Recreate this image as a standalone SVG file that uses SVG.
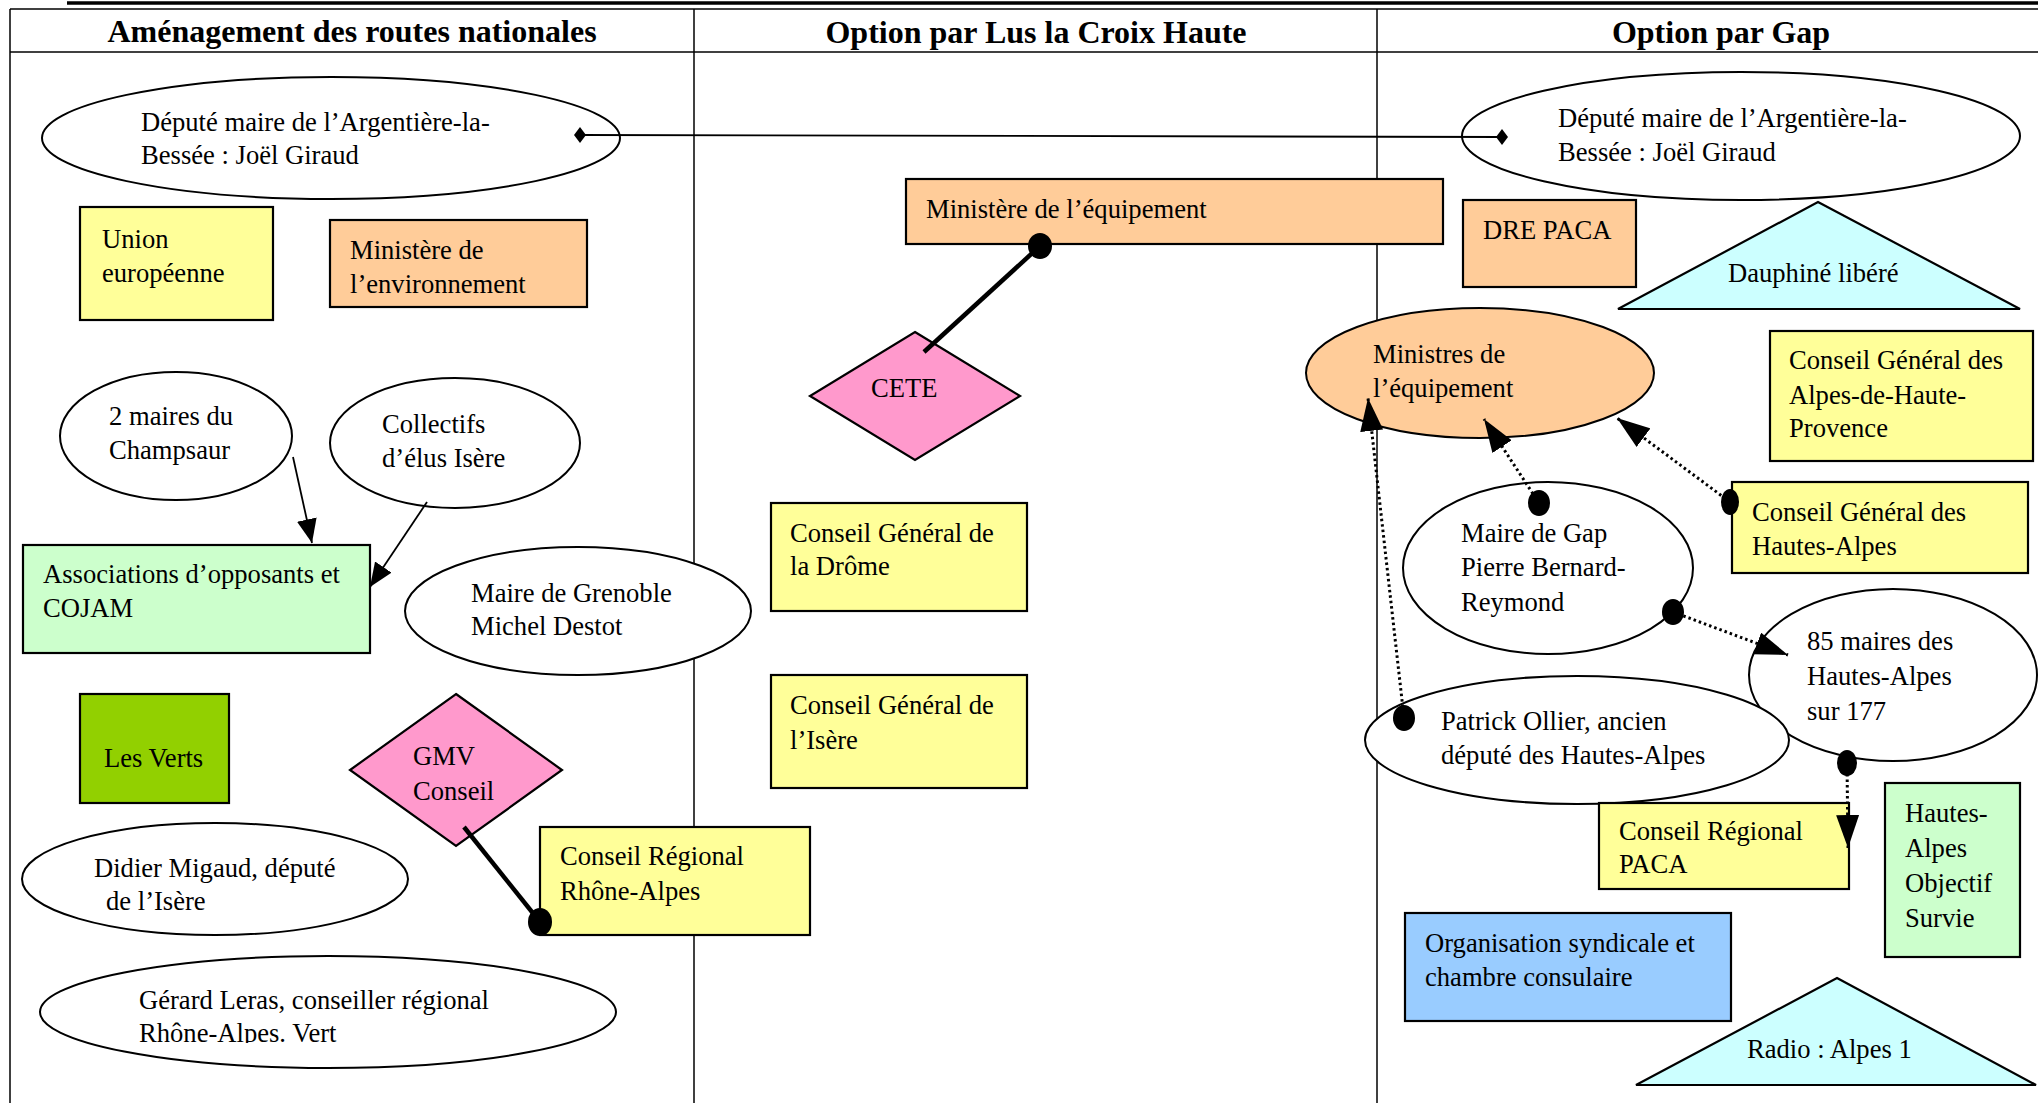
<svg xmlns="http://www.w3.org/2000/svg" width="2038" height="1103" viewBox="0 0 2038 1103">
<style>
.grid{stroke:#000;stroke-width:1.5;fill:none}
.box{stroke:#000;stroke-width:2.2}
.ell{fill:#fff;stroke:#000;stroke-width:2}
.yel{fill:#ffff99}
.org{fill:#ffcc99}
.pnk{fill:#ff99cc}
.grn{fill:#ccffcc}
.vrt{fill:#92d000}
.cyn{fill:#ccffff}
.blu{fill:#99ccff}
.t{font-family:"Liberation Serif","Times New Roman",serif;font-size:26.6px;fill:#000}
.h{font-family:"Liberation Serif","Times New Roman",serif;font-size:32px;font-weight:bold;fill:#000;text-anchor:middle}
.thin{stroke:#000;stroke-width:1.8;fill:none}
.thick{stroke:#000;stroke-width:4.5;fill:none}
.dotted{stroke:#000;stroke-width:3;stroke-dasharray:2.5 3;fill:none}
.dot{fill:#000}
</style>
<defs>
<marker id="arrS" markerUnits="userSpaceOnUse" viewBox="0 0 24 20" refX="24" refY="10" markerWidth="24" markerHeight="20" orient="auto">
<path d="M0,0 L24,10 L0,20 z" fill="#000"/>
</marker>
<marker id="arrL" markerUnits="userSpaceOnUse" viewBox="0 0 33 23" refX="33" refY="11.5" markerWidth="33" markerHeight="23" orient="auto">
<path d="M0,0 L33,11.5 L0,23 z" fill="#000"/>
</marker>
<marker id="dia" markerUnits="userSpaceOnUse" viewBox="0 0 12 16" refX="6" refY="8" markerWidth="12" markerHeight="16" orient="0">
<path d="M6,0 L12,8 L6,16 L0,8 z" fill="#000"/>
</marker>
<clipPath id="clipLeras"><rect x="0" y="940" width="700" height="103"/></clipPath>
</defs>
<rect x="0" y="0" width="2038" height="1103" fill="#fff"/>

<g id="table">
<line x1="67" y1="3" x2="2038" y2="3" stroke="#000" stroke-width="3.5"/>
<line class="grid" x1="10" y1="9" x2="2038" y2="9"/>
<line class="grid" x1="10" y1="52" x2="2038" y2="52"/>
<line class="grid" x1="10" y1="9" x2="10" y2="1103"/>
<line class="grid" x1="694" y1="9" x2="694" y2="1103"/>
<line class="grid" x1="1377" y1="9" x2="1377" y2="1103"/>
<text class="h" x="352" y="42">Aménagement des routes nationales</text>
<text class="h" x="1036" y="43">Option par Lus la Croix Haute</text>
<text class="h" x="1721" y="43">Option par Gap</text>
</g>

<g id="n-depute-left"><ellipse class="ell" cx="331" cy="138" rx="289" ry="61"/>
<text class="t" x="141" y="131">Député maire de l’Argentière-la-</text><text class="t" x="141" y="164">Bessée : Joël Giraud</text></g>
<g id="n-union"><rect class="box yel" x="80" y="207" width="193" height="113"/>
<text class="t" x="102" y="248">Union</text><text class="t" x="102" y="282">européenne</text></g>
<g id="n-min-env"><rect class="box org" x="330" y="220" width="257" height="87"/>
<text class="t" x="350" y="259">Ministère de</text><text class="t" x="350" y="293">l’environnement</text></g>
<g id="n-champsaur"><ellipse class="ell" cx="176" cy="436" rx="116" ry="64"/>
<text class="t" x="109" y="425">2 maires du</text><text class="t" x="109" y="459">Champsaur</text></g>
<g id="n-collectifs"><ellipse class="ell" cx="455" cy="443" rx="125" ry="65"/>
<text class="t" x="382" y="433">Collectifs</text><text class="t" x="382" y="467">d’élus Isère</text></g>
<g id="n-associations"><rect class="box grn" x="23" y="545" width="347" height="108"/>
<text class="t" x="43" y="583">Associations d’opposants et</text><text class="t" x="43" y="617">COJAM</text></g>
<g id="n-grenoble"><ellipse class="ell" cx="578" cy="611" rx="173" ry="64"/>
<text class="t" x="471" y="602">Maire de Grenoble</text><text class="t" x="471" y="635">Michel Destot</text></g>
<g id="n-verts"><rect class="box vrt" x="80" y="694" width="149" height="109"/>
<text class="t" x="104" y="767">Les Verts</text></g>
<g id="n-gmv"><polygon class="box pnk" points="456,694 562,770 456,846 350,770"/>
<text class="t" x="413" y="765">GMV</text><text class="t" x="413" y="800">Conseil</text></g>
<g id="n-cr-ra"><rect class="box yel" x="540" y="827" width="270" height="108"/>
<text class="t" x="560" y="865">Conseil Régional</text><text class="t" x="560" y="900">Rhône-Alpes</text></g>
<g id="n-migaud"><ellipse class="ell" cx="215" cy="879" rx="193" ry="56"/>
<text class="t" x="94" y="877">Didier Migaud, député</text><text class="t" x="106" y="910">de l’Isère</text></g>
<g id="n-leras"><ellipse class="ell" cx="328" cy="1012" rx="288" ry="56"/>
<text class="t" x="139" y="1009">Gérard Leras, conseiller régional</text><text class="t" x="139" y="1042" clip-path="url(#clipLeras)">Rhône-Alpes. Vert</text></g>

<g id="n-min-equip"><rect class="box org" x="906" y="179" width="537" height="65"/>
<text class="t" x="926" y="218">Ministère de l’équipement</text></g>
<g id="n-cete"><polygon class="box pnk" points="915,332 1020,396 915,460 810,396"/>
<text class="t" x="871" y="397">CETE</text></g>
<g id="n-cg-drome"><rect class="box yel" x="771" y="503" width="256" height="108"/>
<text class="t" x="790" y="542">Conseil Général de</text><text class="t" x="790" y="575">la Drôme</text></g>
<g id="n-cg-isere"><rect class="box yel" x="771" y="675" width="256" height="113"/>
<text class="t" x="790" y="714">Conseil Général de</text><text class="t" x="790" y="749">l’Isère</text></g>

<g id="n-depute-right"><ellipse class="ell" cx="1741" cy="136" rx="279" ry="64"/>
<text class="t" x="1558" y="127">Député maire de l’Argentière-la-</text><text class="t" x="1558" y="161">Bessée : Joël Giraud</text></g>
<g id="n-dre"><rect class="box org" x="1463" y="200" width="173" height="87"/>
<text class="t" x="1483" y="239">DRE PACA</text></g>
<g id="n-dauphine"><polygon class="box cyn" points="1818,202 2020,309 1618,309"/>
<text class="t" x="1728" y="282">Dauphiné libéré</text></g>
<g id="n-ministres"><ellipse class="ell org" cx="1480" cy="373" rx="174" ry="65"/>
<text class="t" x="1373" y="363">Ministres de</text><text class="t" x="1373" y="397">l’équipement</text></g>
<g id="n-cg-ahp"><rect class="box yel" x="1770" y="331" width="263" height="130"/>
<text class="t" x="1789" y="369">Conseil Général des</text><text class="t" x="1789" y="404">Alpes-de-Haute-</text><text class="t" x="1789" y="437">Provence</text></g>
<g id="n-cg-ha"><rect class="box yel" x="1732" y="482" width="296" height="91"/>
<text class="t" x="1752" y="521">Conseil Général des</text><text class="t" x="1752" y="555">Hautes-Alpes</text></g>
<g id="n-gap"><ellipse class="ell" cx="1548" cy="568" rx="145" ry="86"/>
<text class="t" x="1461" y="542">Maire de Gap</text><text class="t" x="1461" y="576">Pierre Bernard-</text><text class="t" x="1461" y="611">Reymond</text></g>
<g id="n-85maires"><ellipse class="ell" cx="1893" cy="675" rx="144" ry="86"/>
<text class="t" x="1807" y="650">85 maires des</text><text class="t" x="1807" y="685">Hautes-Alpes</text><text class="t" x="1807" y="720">sur 177</text></g>
<g id="n-ollier"><ellipse class="ell" cx="1577" cy="740" rx="212" ry="64"/>
<text class="t" x="1441" y="730">Patrick Ollier, ancien</text><text class="t" x="1441" y="764">député des Hautes-Alpes</text></g>
<g id="n-cr-paca"><rect class="box yel" x="1599" y="803" width="250" height="86"/>
<text class="t" x="1619" y="840">Conseil Régional</text><text class="t" x="1619" y="873">PACA</text></g>
<g id="n-objectif"><rect class="box grn" x="1885" y="783" width="135" height="174"/>
<text class="t" x="1905" y="822">Hautes-</text><text class="t" x="1905" y="857">Alpes</text><text class="t" x="1905" y="892">Objectif</text><text class="t" x="1905" y="927">Survie</text></g>
<g id="n-syndicale"><rect class="box blu" x="1405" y="913" width="326" height="108"/>
<text class="t" x="1425" y="952">Organisation syndicale et</text><text class="t" x="1425" y="986">chambre consulaire</text></g>
<g id="n-radio"><polygon class="box cyn" points="1837,978 2036,1085 1636,1085"/>
<text class="t" x="1747" y="1058">Radio : Alpes 1</text></g>

<g id="connectors">
<line class="thin" x1="580" y1="135" x2="1502" y2="137" marker-start="url(#dia)" marker-end="url(#dia)"/>
<line class="thin" x1="293" y1="457" x2="312" y2="543" marker-end="url(#arrS)"/>
<line class="thin" x1="427" y1="502" x2="370" y2="587" marker-end="url(#arrS)"/>
<line class="dotted" x1="1404" y1="718" x2="1368" y2="398" marker-end="url(#arrL)"/>
<line class="dotted" x1="1539" y1="503" x2="1484" y2="419" marker-end="url(#arrL)"/>
<line class="dotted" x1="1730" y1="502" x2="1617" y2="418" marker-end="url(#arrL)"/>
<line class="dotted" x1="1673" y1="612" x2="1788" y2="655" marker-end="url(#arrL)"/>
<line class="dotted" x1="1847" y1="763" x2="1848" y2="848" marker-end="url(#arrL)"/>
<line class="thick" x1="924" y1="352" x2="1040" y2="246"/>
<ellipse class="dot" cx="1040" cy="246" rx="12" ry="13"/>
<line class="thick" x1="464" y1="827" x2="540" y2="922"/>
<ellipse class="dot" cx="540" cy="922" rx="12" ry="14"/>
<ellipse class="dot" cx="1404" cy="718" rx="11" ry="13"/>
<ellipse class="dot" cx="1539" cy="503" rx="11" ry="13"/>
<ellipse class="dot" cx="1730" cy="502" rx="9" ry="13"/>
<ellipse class="dot" cx="1673" cy="612" rx="11" ry="13"/>
<ellipse class="dot" cx="1847" cy="763" rx="10" ry="13"/>
</g>
</svg>
